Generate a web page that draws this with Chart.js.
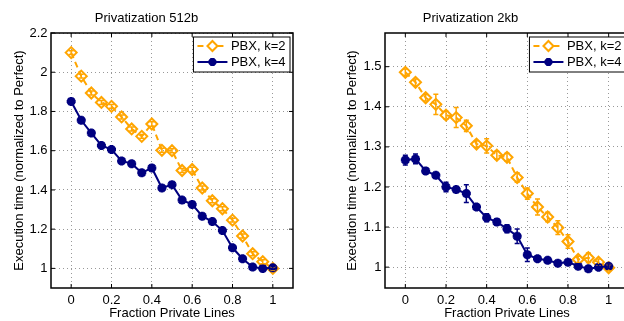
<!DOCTYPE html>
<html>
<head>
<meta charset="utf-8">
<script src="https://cdn.jsdelivr.net/npm/chart.js@4"></script>
<style>
  html, body { margin: 0; padding: 0; background: #fff; overflow: hidden; }
  #left { position: absolute; left: 0; top: 0; width: 312px; height: 321px; }
  #rightClip { position: absolute; left: 312px; top: 0; width: 312px; height: 321px; overflow: hidden; }
  #right { width: 330px; height: 321px; }
</style>
</head>
<body>
<div id="left"><canvas id="chart512"></canvas></div>
<div id="rightClip"><div id="right"><canvas id="chart2k"></canvas></div></div>
<script>
const fractions = [0, 0.05, 0.1, 0.15, 0.2, 0.25, 0.3, 0.35, 0.4, 0.45, 0.5,
  0.55, 0.6, 0.65, 0.7, 0.75, 0.8, 0.85, 0.9, 0.95, 1];

// Privatization 512b
const k2_512 = [2.10, 1.98, 1.894, 1.846, 1.826, 1.772, 1.711, 1.673, 1.736, 1.602, 1.60,
  1.499, 1.504, 1.41, 1.345, 1.304, 1.246, 1.165, 1.075, 1.034, 1.0];
const k2_512err = [0.01, 0.01, 0.01, 0.01, 0.01, 0.01, 0.01, 0.01, 0.012, 0.01, 0.01,
  0.01, 0.012, 0.01, 0.01, 0.01, 0.01, 0.01, 0.01, 0.01, 0.008];
const k4_512 = [1.851, 1.755, 1.69, 1.627, 1.606, 1.548, 1.534, 1.487, 1.512, 1.41, 1.427,
  1.348, 1.326, 1.266, 1.239, 1.193, 1.105, 1.049, 1.007, 1.0, 1.003];
const k4_512err = [0.012, 0.01, 0.01, 0.01, 0.01, 0.01, 0.01, 0.008, 0.012, 0.01, 0.01,
  0.015, 0.012, 0.01, 0.01, 0.01, 0.01, 0.012, 0.008, 0.008, 0.008];

// Privatization 2kb
const k2_2k = [1.486, 1.461, 1.4225, 1.406, 1.379, 1.373, 1.3525, 1.307, 1.3025, 1.279, 1.274,
  1.2235, 1.1835, 1.15, 1.125, 1.0985, 1.064, 1.019, 1.0235, 1.0125, 0.9985];
const k2_2kerr = [0.008, 0.008, 0.008, 0.025, 0.01, 0.025, 0.014, 0.008, 0.018, 0.01, 0.01,
  0.012, 0.014, 0.02, 0.012, 0.017, 0.017, 0.008, 0.012, 0.008, 0.008];
const k4_2k = [1.267, 1.27, 1.24, 1.229, 1.2, 1.1935, 1.1835, 1.15, 1.1235, 1.1125, 1.096,
  1.077, 1.031, 1.021, 1.017, 1.01, 1.0125, 1.0025, 0.996, 1.0, 1.002];
const k4_2kerr = [0.012, 0.012, 0.008, 0.006, 0.012, 0.006, 0.022, 0.006, 0.01, 0.008, 0.01,
  0.018, 0.017, 0.006, 0.006, 0.006, 0.006, 0.006, 0.006, 0.006, 0.006];

const seriesLabels = ['PBX, k=2', 'PBX, k=4'];
const xTicks = [0, 0.2, 0.4, 0.6, 0.8, 1];
const yTicks512 = [1, 1.2, 1.4, 1.6, 1.8, 2, 2.2];
const yTicks2k = [1, 1.1, 1.2, 1.3, 1.4, 1.5];

const ORANGE = '#ffa500';
const NAVY = '#000080';
const FONT = { family: '"Liberation Sans", Arial, sans-serif', size: 13 };

Chart.defaults.font.family = FONT.family;
Chart.defaults.font.size = 13;
Chart.defaults.color = '#000';

function drawMarker(ctx, style, x, y, r) {
  ctx.beginPath();
  if (style === 'rectRot') {
    ctx.moveTo(x, y - r);
    ctx.lineTo(x + r, y);
    ctx.lineTo(x, y + r);
    ctx.lineTo(x - r, y);
    ctx.closePath();
  } else {
    ctx.moveTo(x - r, y); ctx.lineTo(x + r, y);
    ctx.moveTo(x, y - r); ctx.lineTo(x, y + r);
    const d = r * Math.SQRT1_2;
    ctx.moveTo(x - d, y - d); ctx.lineTo(x + d, y + d);
    ctx.moveTo(x - d, y + d); ctx.lineTo(x + d, y - d);
  }
  ctx.stroke();
}

const matlabLook = {
  id: 'matlabLook',
  afterDatasetsDraw(chart) {
    // error bars
    const ctx = chart.ctx;
    const ys = chart.scales.y;
    const xs = chart.scales.x;
    ctx.save();
    chart.data.datasets.forEach(ds => {
      ctx.strokeStyle = ds.borderColor;
      ctx.lineWidth = 1.5;
      ctx.setLineDash([]);
      ds.data.forEach((p, i) => {
        const e = ds.errors[i];
        const px = xs.getPixelForValue(p.x);
        const y1 = ys.getPixelForValue(p.y - e);
        const y2 = ys.getPixelForValue(p.y + e);
        ctx.beginPath();
        ctx.moveTo(px, y1); ctx.lineTo(px, y2);
        ctx.moveTo(px - 2.5, y1); ctx.lineTo(px + 2.5, y1);
        ctx.moveTo(px - 2.5, y2); ctx.lineTo(px + 2.5, y2);
        ctx.stroke();
      });
    });
    ctx.restore();
  },
  afterDraw(chart) {
    const ctx = chart.ctx;
    const a = chart.chartArea;
    const xs = chart.scales.x;
    const ys = chart.scales.y;
    ctx.save();
    // axes box
    ctx.strokeStyle = '#000';
    ctx.lineWidth = 1.5;
    ctx.setLineDash([]);
    ctx.strokeRect(a.left, a.top, a.right - a.left, a.bottom - a.top);
    // inward ticks on all sides
    ctx.lineWidth = 1;
    ctx.beginPath();
    xs.ticks.forEach(t => {
      const px = xs.getPixelForValue(t.value);
      ctx.moveTo(px, a.bottom); ctx.lineTo(px, a.bottom - 4);
      ctx.moveTo(px, a.top); ctx.lineTo(px, a.top + 4);
    });
    ys.ticks.forEach(t => {
      const py = ys.getPixelForValue(t.value);
      ctx.moveTo(a.left, py); ctx.lineTo(a.left + 4, py);
      ctx.moveTo(a.right, py); ctx.lineTo(a.right - 4, py);
    });
    ctx.stroke();

    // legend
    ctx.font = '13px ' + FONT.family;
    const tw = Math.max(...chart.data.datasets.map(ds => ctx.measureText(ds.label).width));
    const bw = 37.5 + tw + 4.5;
    const bh = 35;
    const bx = a.right - 3 - bw;
    const by = a.top + 4;
    ctx.fillStyle = '#fff';
    ctx.fillRect(bx, by, bw, bh);
    ctx.strokeStyle = '#000';
    ctx.lineWidth = 1;
    ctx.strokeRect(bx, by, bw, bh);
    chart.data.datasets.forEach((ds, i) => {
      const ry = by + 9 + i * 16;
      ctx.strokeStyle = ds.borderColor;
      ctx.lineWidth = 2;
      ctx.setLineDash(ds.borderDash || []);
      ctx.beginPath();
      ctx.moveTo(bx + 4, ry); ctx.lineTo(bx + 34, ry);
      ctx.stroke();
      ctx.setLineDash([]);
      ctx.lineWidth = ds.pointBorderWidth;
      if (ds.pointStyle === 'rectRot') {
        ctx.fillStyle = '#fff';
        ctx.beginPath();
        ctx.moveTo(bx + 19, ry - 5); ctx.lineTo(bx + 24, ry); ctx.lineTo(bx + 19, ry + 5); ctx.lineTo(bx + 14, ry);
        ctx.closePath(); ctx.fill();
      }
      drawMarker(ctx, ds.pointStyle, bx + 19, ry, ds.pointStyle === 'rectRot' ? 5 : 4);
      ctx.fillStyle = '#000';
      ctx.textBaseline = 'middle';
      ctx.textAlign = 'left';
      ctx.fillText(ds.label, bx + 37.5, ry + 0.5);
    });
    ctx.restore();
  }
};

function makeChart(canvasId, title, k2, k2err, k4, k4err, yMin, yMax, yTicks, yAxisWidth, yTitlePad, rightPad) {
  return new Chart(document.getElementById(canvasId), {
    type: 'line',
    plugins: [matlabLook],
    data: {
      datasets: [{
        label: seriesLabels[0],
        data: fractions.map((f, i) => ({ x: f, y: k2[i] })),
        errors: k2err,
        borderColor: ORANGE,
        backgroundColor: 'rgba(0,0,0,0)',
        borderWidth: 2,
        borderDash: [6, 4],
        pointStyle: 'rectRot',
        pointRadius: 5.5,
        pointBorderWidth: 2,
        pointBackgroundColor: 'rgba(0,0,0,0)',
        order: 2,
      }, {
        label: seriesLabels[1],
        data: fractions.map((f, i) => ({ x: f, y: k4[i] })),
        errors: k4err,
        borderColor: NAVY,
        backgroundColor: NAVY,
        borderWidth: 2,
        pointStyle: 'star',
        pointRadius: 4.5,
        pointBorderWidth: 3,
        pointBackgroundColor: NAVY,
        order: 1,
      }]
    },
    options: {
      responsive: true,
      maintainAspectRatio: false,
      animation: false,
      layout: { padding: { left: 0, top: 0, right: rightPad, bottom: 0 } },
      scales: {
        x: {
          type: 'linear',
          min: -0.1,
          max: 1.1,
          afterBuildTicks: (scale) => { scale.ticks = xTicks.map(v => ({ value: v })); },
          afterFit: (scale) => { scale.height = 33; },
          ticks: { callback: (v) => String(v), padding: 5, maxRotation: 0, font: FONT },
          grid: { color: '#999', lineWidth: 1, drawTicks: false },
          border: { display: false, dash: [1, 3] },
          title: { display: true, text: 'Fraction Private Lines', font: FONT, padding: { top: 0, bottom: 0 } },
        },
        y: {
          type: 'linear',
          min: yMin,
          max: yMax,
          afterBuildTicks: (scale) => { scale.ticks = yTicks.map(v => ({ value: v })); },
          afterFit: (scale) => { scale.width = yAxisWidth; },
          ticks: { callback: (v) => String(v), padding: 3.5, font: FONT },
          grid: { color: '#999', lineWidth: 1, drawTicks: false },
          border: { display: false, dash: [1, 3] },
          title: { display: true, text: 'Execution time (normalized to Perfect)', font: FONT, padding: { top: yTitlePad, bottom: 0 } },
        },
      },
      plugins: {
        legend: { display: false },
        tooltip: { enabled: false },
        title: {
          display: true,
          text: title,
          color: '#000',
          font: { family: FONT.family, size: 13, weight: 'normal' },
          padding: { top: 10.5, bottom: 6.9 },
        },
      },
    },
  });
}

makeChart('chart512', 'Privatization 512b', k2_512, k2_512err, k4_512, k4_512err,
  0.9, 2.2, yTicks512, 51, 12, 19);
makeChart('chart2k', 'Privatization 2kb', k2_2k, k2_2kerr, k4_2k, k4_2kerr,
  0.948, 1.584, yTicks2k, 73, 33, 13);
</script>
</body>
</html>
